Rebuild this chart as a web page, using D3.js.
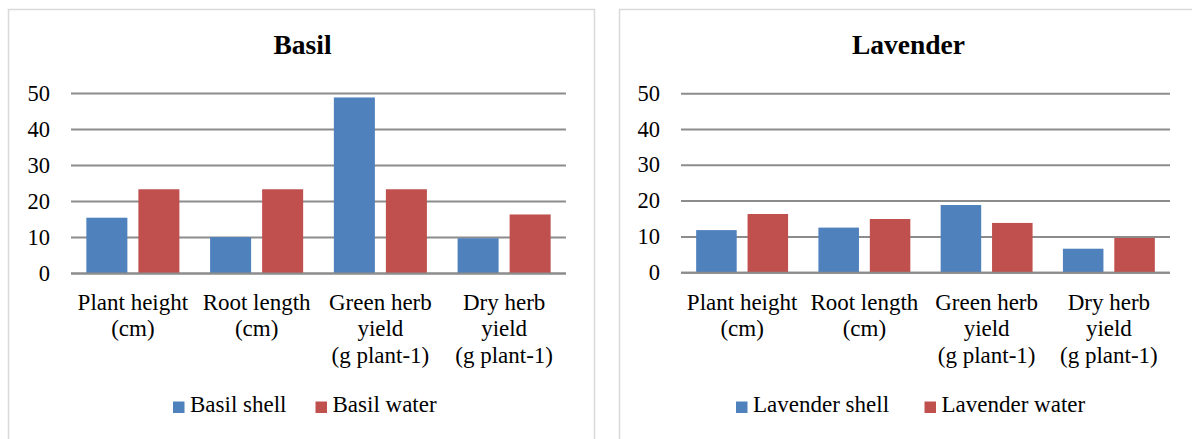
<!DOCTYPE html>
<html>
<head>
<meta charset="utf-8">
<script src="https://cdn.jsdelivr.net/npm/d3@7/dist/d3.min.js"></script>
<style>
  html, body { margin: 0; padding: 0; background: #ffffff; }
  svg { display: block; }
</style>
</head>
<body>
<svg id="chart" width="1192" height="439"></svg>
<script>
// ---- data ----
const categories = [
  ["Plant height", "(cm)"],
  ["Root length", "(cm)"],
  ["Green herb", "yield", "(g plant-1)"],
  ["Dry herb", "yield", "(g plant-1)"]
];
const yTicks = [0, 10, 20, 30, 40, 50];

const basilTitle = "Basil";
const basilSeries = ["Basil shell", "Basil water"];
const basilShell = [15.5, 10.1, 48.9, 9.8];
const basilWater = [23.4, 23.4, 23.4, 16.4];

const lavenderTitle = "Lavender";
const lavenderSeries = ["Lavender shell", "Lavender water"];
const lavenderShell = [11.9, 12.6, 18.9, 6.7];
const lavenderWater = [16.4, 15.0, 13.9, 9.7];

const colors = ["#4f81bd", "#c0504d"];
const FONT = "'Liberation Serif', 'Times New Roman', Tinos, 'DejaVu Serif', serif";

// ---- drawing ----
const svg = d3.select("#chart");

function drawPanel(o) {
  const g = svg.append("g").attr("font-family", FONT).style("font-family", FONT);
  // panel border
  g.append("rect")
    .attr("x", o.panel[0]).attr("y", o.panel[1])
    .attr("width", o.panel[2]).attr("height", o.panel[3])
    .attr("fill", "#fff").attr("stroke", "#d9d9d9").attr("stroke-width", 1.5);

  // title
  g.append("text")
    .attr("x", o.titleX).attr("y", 53.5)
    .attr("text-anchor", "middle")
    .style("font-family", FONT)
    .style("font-size", "27.5px").style("font-weight", "bold")
    .text(o.title);

  const x = d3.scaleBand().domain(d3.range(categories.length)).range([o.x0, o.x1]).padding(0);
  const xs = d3.scaleBand().domain([0, 1]).range([0, x.bandwidth()])
    .paddingInner(0.2115).paddingOuter(0.295);
  const y = d3.scaleLinear().domain([0, 50]).range([o.y0, o.y50]);

  // gridlines
  g.append("g").selectAll("line").data(yTicks).join("line")
    .attr("x1", o.x0).attr("x2", o.x1)
    .attr("y1", d => y(d)).attr("y2", d => y(d))
    .attr("stroke", "#8c8c8c").attr("stroke-width", 2);

  // y tick labels
  g.append("g").selectAll("text").data(yTicks).join("text")
    .attr("x", o.x0 - 21).attr("y", d => y(d) + 7)
    .attr("text-anchor", "end")
    .style("font-family", FONT)
    .style("font-size", "22.5px")
    .text(d => d);

  // bars
  const seriesVals = [o.shell, o.water];
  seriesVals.forEach((vals, si) => {
    g.append("g").selectAll("rect").data(vals).join("rect")
      .attr("x", (d, i) => x(i) + xs(si))
      .attr("width", xs.bandwidth())
      .attr("y", d => y(d))
      .attr("height", d => y(0) - y(d))
      .attr("fill", colors[si]);
  });
  // baseline on top of bars
  g.append("line")
    .attr("x1", o.x0).attr("x2", o.x1).attr("y1", y(0)).attr("y2", y(0))
    .attr("stroke", "#8c8c8c").attr("stroke-width", 2);

  // category labels
  const cl = g.append("g").selectAll("text").data(categories).join("text")
    .attr("text-anchor", "middle")
    .style("font-family", FONT)
    .style("font-size", "23px");
  cl.each(function(lines, i) {
    d3.select(this).selectAll("tspan").data(lines).join("tspan")
      .attr("x", x(i) + x.bandwidth() / 2)
      .attr("y", (d, j) => 309.5 + j * 26.5)
      .text(d => d);
  });

  // legend
  o.series.forEach((name, si) => {
    const lx = o.legendX[si];
    g.append("rect")
      .attr("x", lx).attr("y", 401.5).attr("width", 11.5).attr("height", 11.5)
      .attr("fill", colors[si]);
    g.append("text")
      .attr("x", lx + 17).attr("y", 411.5)
      .style("font-family", FONT)
      .style("font-size", "23px")
      .text(name);
  });
}

drawPanel({
  panel: [8.5, 9.5, 586, 445],
  title: basilTitle, titleX: 302.5,
  x0: 71, x1: 566, y0: 273.5, y50: 93.5,
  shell: basilShell, water: basilWater, series: basilSeries,
  legendX: [173, 315.5]
});

drawPanel({
  panel: [619.5, 9.5, 600, 445],
  title: lavenderTitle, titleX: 908.5,
  x0: 681, x1: 1170, y0: 272.7, y50: 93.7,
  shell: lavenderShell, water: lavenderWater, series: lavenderSeries,
  legendX: [736, 924.5]
});
</script>
</body>
</html>
